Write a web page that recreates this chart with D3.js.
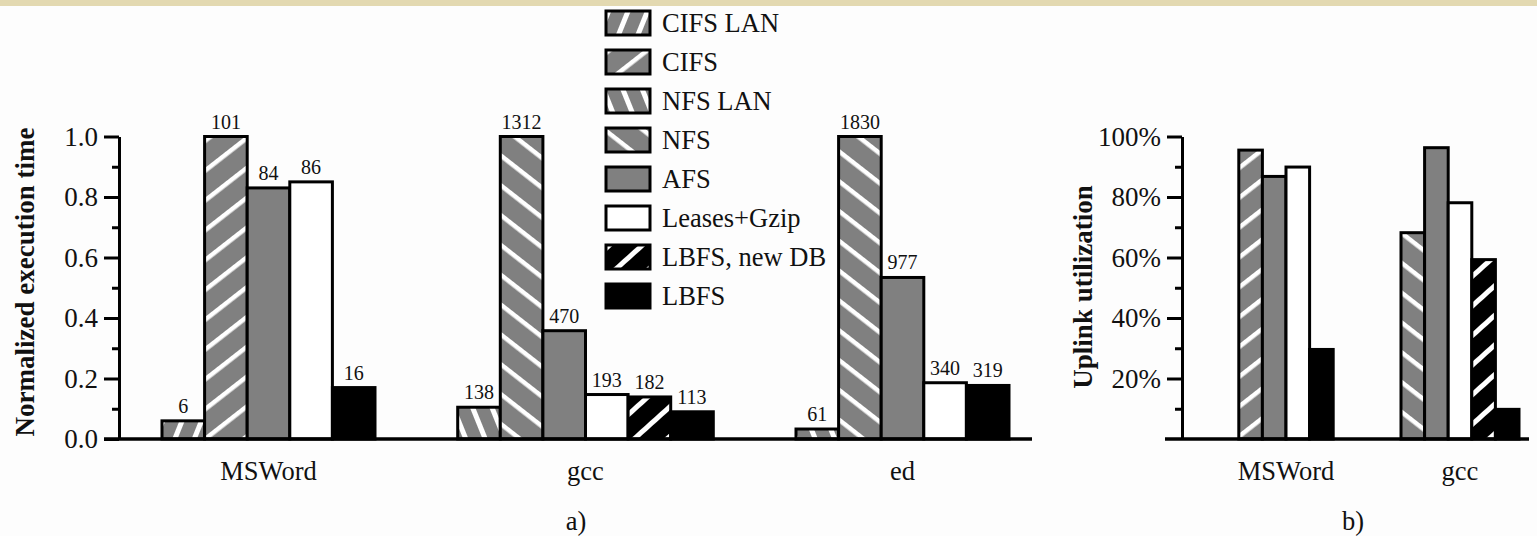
<!DOCTYPE html>
<html>
<head>
<meta charset="utf-8">
<script src="https://cdn.jsdelivr.net/npm/d3@7"></script>
<style>
  html, body { margin: 0; padding: 0; background: #fdfdfd; }
  svg { display: block; }
  svg text { font-family: "Liberation Serif", "Tinos", "Times New Roman", "DejaVu Serif", serif; }
</style>
</head>
<body>
<svg id="chart" width="1537" height="536"></svg>
<script>
var seriesNames = ["CIFS LAN", "CIFS", "NFS LAN", "NFS", "AFS", "Leases+Gzip", "LBFS, new DB", "LBFS"];
var benchmarksA = ["MSWord", "gcc", "ed"];
var benchmarksB = ["MSWord", "gcc"];

// a) normalized execution time (null = benchmark not run on that system)
var mswordNorm = [0.06, 1.0, null, null, 0.83, 0.85, null, 0.17];
var gccNorm = [null, null, 0.105, 1.0, 0.358, 0.147, 0.139, 0.09];
var edNorm = [null, null, 0.033, 1.0, 0.534, 0.186, null, 0.177];

// a) absolute run time in seconds, printed over the bars
var mswordSecs = [6, 101, null, null, 84, 86, null, 16];
var gccSecs = [null, null, 138, 1312, 470, 193, 182, 113];
var edSecs = [null, null, 61, 1830, 977, 340, null, 319];

// b) uplink utilization, percent
var mswordUplink = [null, 95.5, null, null, 86.8, 89.9, null, 29.6];
var gccUplink = [null, null, null, 68.2, 96.3, 78.1, 59.3, 9.8];

var ticksA = [0, 0.2, 0.4, 0.6, 0.8, 1.0];
var minorTicksA = [0.1, 0.3, 0.5, 0.7, 0.9];
var ticksB = [20, 40, 60, 80, 100];
var minorTicksB = [10, 30, 50, 70, 90];

var gray = "#808080",
  ink = "#111",
  serif = "'Liberation Serif', 'Tinos', 'Times New Roman', 'DejaVu Serif', serif",
  svg = d3.select("#chart"),
  defs = svg.append("defs");

// hatch fills: [id, background, angle, period, stripe width]
var hatches = [
  ["cifsLan", gray, -68, 18, 5],
  ["cifs", gray, -38, 23.5, 4.5],
  ["nfsLan", gray, 68, 18, 5],
  ["nfs", gray, 38, 23.5, 4.5],
  ["lbfsNew", "#000", -42, 22, 5]
];
hatches.forEach(function(h) {
  var p = defs.append("pattern")
    .attr("id", h[0])
    .attr("patternUnits", "userSpaceOnUse")
    .attr("width", 10)
    .attr("height", h[3])
    .attr("patternTransform", "rotate(" + h[2] + ")");
  p.append("rect").attr("width", 10).attr("height", h[3]).attr("fill", h[1]);
  p.append("rect").attr("width", 10).attr("height", h[4]).attr("fill", "#fff");
});

var seriesFill = ["url(#cifsLan)", "url(#cifs)", "url(#nfsLan)", "url(#nfs)", gray, "#fff", "url(#lbfsNew)", "#000"];

// parchment strip along the top
svg.append("rect")
  .attr("width", 1537)
  .attr("height", 6)
  .attr("fill", "#e3d9b1");

var drawPanel = function(opts) {
  var g = svg.append("g").attr("font-family", serif),
    x = d3.scaleBand().domain(opts.groups).range(opts.xRange),
    y = d3.scaleLinear().domain(opts.yDomain).range([439, 136.5]);

  opts.groups.forEach(function(name, gi) {
    var vals = opts.values[gi],
      labels = opts.labels ? opts.labels[gi] : null,
      idx = d3.range(seriesNames.length).filter(function(i) { return vals[i] !== null; }),
      cx = x(name) + x.bandwidth() / 2,
      left = cx - idx.length * opts.barWidth / 2;

    var bars = g.selectAll(".bar-" + gi)
      .data(idx)
      .enter()
      .append("g")
      .attr("class", "bar-" + gi);

    bars.append("rect")
      .attr("x", function(d, k) { return left + k * opts.barWidth; })
      .attr("y", function(d) { return y(vals[d]); })
      .attr("width", opts.barWidth)
      .attr("height", function(d) { return y(0) - y(vals[d]); })
      .attr("fill", function(d) { return seriesFill[d]; })
      .attr("stroke", "#000")
      .attr("stroke-width", 3);

    if (labels) {
      bars.append("text")
        .attr("x", function(d, k) { return left + (k + 0.5) * opts.barWidth; })
        .attr("y", function(d) { return y(vals[d]) - 8; })
        .attr("text-anchor", "middle")
        .attr("font-size", 20)
        .attr("fill", ink)
        .text(function(d) { return labels[d]; });
    }

    g.append("text")
      .attr("x", cx)
      .attr("y", 480)
      .attr("text-anchor", "middle")
      .attr("font-size", 26.5)
      .attr("fill", ink)
      .text(name);
  });

  var axis = g.append("g")
    .attr("transform", "translate(" + opts.axisX + ",0)")
    .call(d3.axisLeft(y).tickValues(opts.ticks).tickSize(15).tickSizeOuter(0).tickPadding(6).tickFormat(opts.format));
  axis.attr("font-family", serif);
  axis.select(".domain").attr("stroke-width", 3);
  axis.selectAll(".tick line").attr("stroke-width", 3);
  axis.selectAll(".tick text")
    .attr("font-size", 27)
    .attr("fill", ink);

  g.append("g")
    .attr("transform", "translate(" + opts.axisX + ",0)")
    .call(d3.axisLeft(y).tickValues(opts.minor).tickSize(7).tickFormat(""))
    .call(function(a) {
      a.select(".domain").remove();
      a.selectAll(".tick line").attr("stroke-width", 3);
    });

  g.append("line")
    .attr("x1", opts.baseline[0])
    .attr("x2", opts.baseline[1])
    .attr("y1", y(0))
    .attr("y2", y(0))
    .attr("stroke", "#000")
    .attr("stroke-width", 3.5);

  g.append("text")
    .attr("transform", "translate(" + opts.titleX + "," + opts.titleY + ") rotate(-90)")
    .attr("text-anchor", "middle")
    .attr("font-size", 27)
    .attr("font-weight", "bold")
    .attr("fill", ink)
    .text(opts.title);

  g.append("text")
    .attr("x", opts.tagX)
    .attr("y", 530)
    .attr("text-anchor", "middle")
    .attr("font-size", 26.5)
    .attr("fill", ink)
    .text(opts.tag);
};

drawPanel({
  groups: benchmarksA,
  values: [mswordNorm, gccNorm, edNorm],
  labels: [mswordSecs, gccSecs, edSecs],
  xRange: [110, 1061],
  yDomain: [0, 1],
  barWidth: 42.6,
  axisX: 119,
  ticks: ticksA,
  minor: minorTicksA,
  format: d3.format(".1f"),
  baseline: [104, 1032],
  title: "Normalized execution time",
  titleX: 34,
  titleY: 282,
  tag: "a)",
  tagX: 576
});

drawPanel({
  groups: benchmarksB,
  values: [mswordUplink, gccUplink],
  labels: null,
  xRange: [1199, 1547],
  yDomain: [0, 100],
  barWidth: 23.6,
  axisX: 1182,
  ticks: ticksB,
  minor: minorTicksB,
  format: function(d) { return d + "%"; },
  baseline: [1165, 1529],
  title: "Uplink utilization",
  titleX: 1092,
  titleY: 287,
  tag: "b)",
  tagX: 1353
});

// legend
var legend = svg.append("g")
  .attr("font-family", serif)
  .selectAll("g")
  .data(seriesNames)
  .enter()
  .append("g")
  .attr("transform", function(d, i) { return "translate(606," + (11 + i * 39) + ")"; });

legend.append("rect")
  .attr("width", 44)
  .attr("height", 24)
  .attr("fill", function(d, i) { return seriesFill[i]; })
  .attr("stroke", "#000")
  .attr("stroke-width", 3);

legend.append("text")
  .attr("x", 56)
  .attr("y", 21)
  .attr("font-size", 26.5)
  .attr("fill", ink)
  .text(function(d) { return d; });
</script>
</body>
</html>
